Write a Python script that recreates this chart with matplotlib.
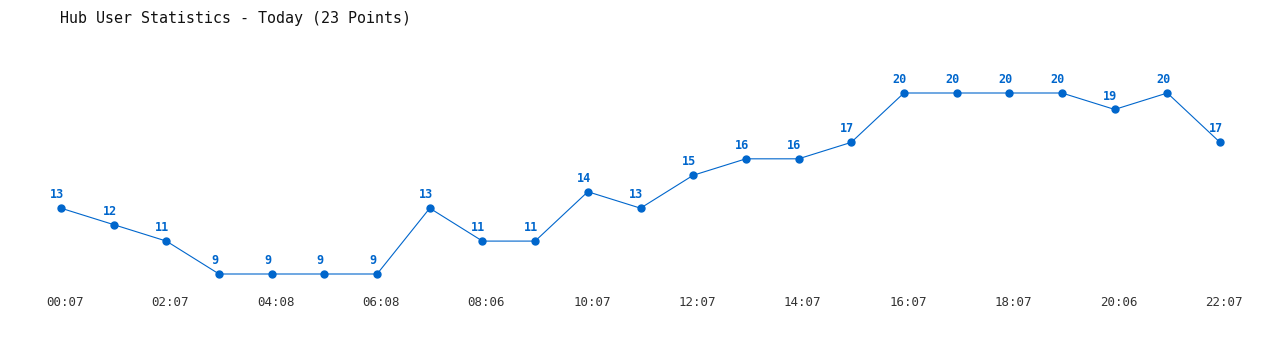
import matplotlib
matplotlib.use("Agg")
import matplotlib.pyplot as plt
import matplotlib.transforms as mtransforms

title = "Hub User Statistics - Today (23 Points)"
users = [13, 12, 11, 9, 9, 9, 9, 13, 11, 11, 14, 13, 15, 16, 16, 17, 20, 20, 20, 20, 19, 20, 17]
tick_labels = ["00:07", "02:07", "04:08", "06:08", "08:06", "10:07",
               "12:07", "14:07", "16:07", "18:07", "20:06", "22:07"]

blue = "#0066cc"
mono = "DejaVu Sans Mono"

fig = plt.figure(figsize=(12.8, 3.5), dpi=100)
ax = fig.add_axes([61 / 1280, 76 / 350, 1159 / 1280, 181 / 350])

x = list(range(len(users)))
ax.plot(x, users, color=blue, lw=0.8, marker="o", ms=5, clip_on=False)
for xi, v in zip(x, users):
    ax.annotate(str(v), (xi, v), xytext=(-3, 5), textcoords="offset points",
                ha="center", va="bottom", color=blue, fontsize=8.5,
                fontweight="bold", family=mono)

ax.set_xlim(0, len(users) - 1)
ax.set_ylim(min(users), max(users))
ax.set_xticks(x[::2])
ax.set_xticklabels(tick_labels, family=mono, fontsize=9, color="#333333")
ax.set_yticks([])
ax.tick_params(axis="x", length=0, pad=16)
# labels sit a few pixels right of the points in the original
shift = mtransforms.ScaledTranslation(4 / 100, 0, fig.dpi_scale_trans)
for lab in ax.get_xticklabels():
    lab.set_transform(lab.get_transform() + shift)
for s in ax.spines.values():
    s.set_visible(False)

fig.text(60 / 1280, 1 - 18 / 350, title, family=mono, fontsize=10.8,
         color="#111111", ha="left", va="center")

plt.savefig("out.png", dpi=100)
plt.close()
